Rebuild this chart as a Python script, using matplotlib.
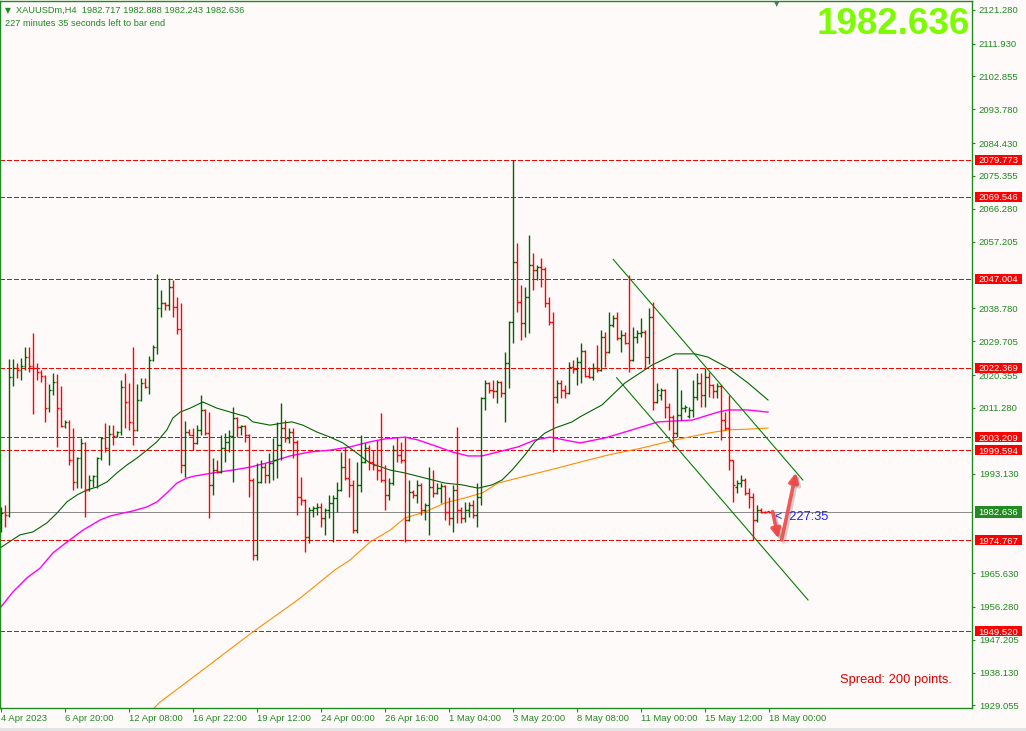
import numpy as np
import matplotlib
matplotlib.use("Agg")
import matplotlib.pyplot as plt
from matplotlib.collections import LineCollection
from matplotlib.patches import Rectangle
import matplotlib.transforms as mtransforms
import matplotlib.patheffects as pe

# ---------------- data (XAUUSDm, H4) ----------------
opens = [
 1979.7,1982.5,1981.7,2019.8,2022.3,2021.7,2022.9,2025.3,2022.9,2022.3,
 2021.2,2020.1,2011.2,2016.2,2018.4,2011.2,2006.3,2007.4,1996.9,1990.8,
 1997.4,2001.6,1988.6,1991.3,1992.5,1997.4,2002.9,2000.2,2004.1,2003.5,
 2004.6,2017.1,2012.9,2007.4,2005.2,2013.4,2018.2,2017.1,2024.5,2028.1,
 2038.9,2040.3,2039.7,2044.7,2039.1,2033.1,1995.5,2004.6,2003.9,2001.6,
 2005.2,2010.7,2004.3,1990.0,1994.1,1993.6,2000.2,2001.8,2003.5,2008.5,
 2006.0,2006.3,2003.8,1991.3,1970.6,1990.8,1994.9,1992.7,1996.0,1996.9,
 2001.0,2005.7,2003.0,2004.6,2001.8,1986.6,1985.8,1975.6,1983.0,1983.5,
 1983.9,1980.8,1983.0,1985.0,1986.4,1988.6,1994.9,1991.9,1990.0,1977.5,
 1990.0,1996.3,2000.2,1996.3,1995.5,1994.1,1991.3,1987.2,1990.5,1999.6,
 1998.3,1996.9,1980.3,1988.0,1987.2,1990.0,1983.0,1984.4,1989.4,1987.8,
 1989.1,1989.7,1982.5,1980.8,1988.6,1983.0,1980.8,1983.0,1984.4,1981.7,
 1986.6,2014.0,2018.2,2016.2,2015.9,2018.4,2015.4,2023.7,2035.0,2051.6,
 2040.5,2034.7,2041.9,2050.8,2049.4,2050.2,2049.6,2040.3,2035.0,2014.3,
 2018.2,2016.2,2015.4,2022.6,2022.0,2024.0,2027.0,2020.1,2019.9,2022.3,
 2021.7,2030.9,2026.7,2034.2,2036.1,2030.6,2031.4,2029.2,2024.5,2030.9,
 2032.0,2032.3,2025.3,2036.4,2012.9,2014.8,2016.2,2011.5,2008.8,2004.3,
 2009.3,2011.2,2009.0,2010.7,2014.3,2018.2,2014.8,2019.8,2017.6,2015.9,
 2017.3,2007.9,2005.7,1996.9,1989.4,1990.5,1991.3,1987.8,1986.6,1980.3,
 1983.0,1982.5,1982.717]
highs = [
 1983.9,1984.4,2024.8,2024.8,2023.7,2025.1,2028.1,2028.1,2032.0,2023.7,
 2021.7,2020.4,2017.9,2020.9,2020.6,2017.3,2007.9,2007.9,2005.7,1997.7,
 2003.0,2001.8,1992.7,1992.8,1997.7,2003.2,2007.1,2006.5,2006.5,2004.8,
 2019.0,2020.9,2018.2,2028.1,2017.9,2019.5,2019.5,2025.6,2028.7,2048.3,
 2043.9,2040.5,2047.2,2046.6,2041.9,2040.3,2007.6,2005.4,2005.7,2006.5,
 2014.8,2011.0,2010.1,1997.4,1996.9,2003.8,2004.3,2005.2,2011.5,2008.7,
 2006.5,2006.6,2004.0,1991.9,1996.0,1996.9,1996.0,1998.8,2002.9,2007.4,
 2012.6,2007.9,2005.7,2005.7,2002.4,1992.2,1986.0,1983.9,1984.1,1985.0,
 1985.0,1983.6,1987.2,1987.2,1990.8,1999.1,2000.5,1997.4,1991.3,1996.3,
 2003.8,2001.6,2001.0,1999.6,2002.4,2009.9,1995.5,1991.9,2001.0,2003.2,
 2001.8,2003.2,1991.3,1988.6,1991.3,1990.5,1985.0,1994.9,1994.1,1990.5,
 1990.5,1990.0,1986.6,1990.0,2006.0,1983.9,1985.3,1985.3,1985.8,1990.5,
 2014.3,2019.0,2018.4,2019.0,2019.0,2018.6,2026.7,2035.3,2079.7,2056.8,
 2045.2,2044.7,2059.1,2054.1,2050.8,2052.7,2050.2,2041.9,2037.8,2019.0,
 2019.0,2017.6,2024.0,2024.5,2025.3,2029.2,2027.2,2022.6,2023.7,2028.7,
 2032.8,2032.2,2037.8,2036.9,2037.8,2032.8,2032.2,2048.0,2033.6,2032.8,
 2036.1,2032.8,2038.9,2040.5,2018.2,2016.8,2016.5,2012.6,2009.3,2022.3,
 2016.2,2012.0,2011.5,2019.0,2020.9,2020.9,2022.3,2021.2,2017.8,2018.2,
 2017.6,2010.1,2014.8,1997.0,1991.3,1992.7,1991.9,1989.1,1987.8,1984.4,
 1983.6,1982.9,1982.888]
lows = [
 1977.0,1978.4,1981.1,2017.3,2019.5,2019.0,2021.7,2021.2,2009.6,2019.0,
 2018.4,2007.4,2010.1,2014.8,2000.5,2006.0,2005.7,1995.5,1988.6,1989.1,
 1989.1,1981.1,1988.3,1989.4,1989.1,1996.9,1999.1,1995.5,2001.0,2003.2,
 2003.8,2005.7,2005.2,2001.0,2004.9,2013.2,2016.8,2015.1,2024.2,2026.2,
 2036.4,2038.3,2038.3,2036.4,2031.7,1993.3,1992.2,2003.7,1999.6,2001.3,
 2003.8,2003.8,1980.8,1987.2,1993.2,1993.3,1996.3,1999.1,1990.8,2003.2,
 2003.8,2001.8,1986.6,1969.2,1969.2,1990.5,1990.5,1990.5,1991.3,1991.9,
 1996.9,2001.8,2001.6,1997.4,1981.7,1984.4,1971.4,1973.9,1981.1,1981.7,
 1978.4,1976.1,1980.8,1974.2,1982.5,1988.3,1991.3,1986.6,1976.7,1976.7,
 1988.0,1996.0,1994.1,1994.1,1991.3,1990.8,1983.0,1985.8,1990.0,1996.3,
 1996.0,1974.2,1980.0,1986.4,1985.0,1981.7,1980.3,1976.1,1986.6,1987.5,
 1985.0,1980.3,1978.9,1977.0,1979.5,1979.5,1979.7,1981.1,1980.8,1978.4,
 1984.4,2010.7,2015.4,2014.0,2012.6,2014.3,2007.4,2016.8,2029.2,2037.8,
 2030.0,2030.9,2032.0,2043.9,2046.6,2044.7,2039.2,2034.2,1999.1,2012.6,
 2014.0,2014.0,2015.2,2020.9,2017.6,2018.2,2019.8,2019.5,2019.0,2021.2,
 2021.5,2022.6,2026.4,2033.6,2030.0,2026.7,2029.0,2021.2,2024.3,2029.2,
 2030.9,2022.3,2023.3,2010.7,2012.6,2013.5,2008.5,2005.2,2000.5,2003.2,
 2007.9,2010.1,2008.5,2008.8,2013.4,2011.5,2011.5,2014.3,2014.0,2014.0,
 2002.4,2005.2,1994.1,1985.3,1987.8,1989.4,1987.2,1983.6,1974.8,1979.7,
 1982.2,1982.2,1982.243]
closes = [
 1982.2,1981.7,2019.8,2022.3,2021.7,2022.9,2025.3,2022.9,2022.3,2021.2,
 2020.1,2011.2,2016.2,2018.4,2011.2,2006.3,2007.4,1996.9,1990.8,1997.4,
 2001.6,1988.6,1991.3,1992.5,1997.4,2002.9,2000.2,2004.1,2003.5,2004.6,
 2017.1,2012.9,2007.4,2005.2,2013.4,2018.2,2017.1,2024.5,2028.1,2038.9,
 2040.3,2039.7,2044.7,2039.1,2033.1,1995.5,2004.6,2003.9,2001.6,2005.2,
 2010.7,2004.3,1990.0,1994.1,1993.6,2000.2,2001.8,2003.5,2008.5,2006.0,
 2006.3,2003.8,1991.3,1970.6,1990.8,1994.9,1992.7,1996.0,1996.9,2001.0,
 2005.7,2003.0,2004.6,2001.8,1986.6,1985.8,1975.6,1983.0,1983.5,1983.9,
 1980.8,1983.0,1985.0,1986.4,1988.6,1994.9,1991.9,1990.0,1977.5,1990.0,
 1996.3,2000.2,1996.3,1995.5,1994.1,1991.3,1987.2,1990.5,1999.6,1998.3,
 1996.9,1980.3,1988.0,1987.2,1990.0,1983.0,1984.4,1989.4,1987.8,1989.1,
 1989.7,1982.5,1980.8,1988.6,1983.0,1980.8,1983.0,1984.4,1981.7,1986.6,
 2014.0,2018.2,2016.2,2015.9,2018.4,2015.4,2023.7,2035.0,2051.6,2040.5,
 2034.7,2041.9,2050.8,2049.4,2050.2,2049.6,2040.3,2035.0,2014.3,2018.2,
 2016.2,2015.4,2022.6,2022.0,2024.0,2027.0,2020.1,2019.9,2022.3,2021.7,
 2030.9,2026.7,2034.2,2036.1,2030.6,2031.4,2029.2,2024.5,2030.9,2032.0,
 2032.3,2025.3,2036.4,2012.9,2016.2,2016.2,2011.5,2008.8,2004.3,2009.3,
 2011.2,2011.5,2010.7,2014.3,2018.2,2014.8,2019.8,2017.6,2015.9,2017.3,
 2007.9,2005.7,1996.9,1990.0,1990.5,1991.3,1987.8,1986.6,1980.3,1983.0,
 1982.5,1982.4,1982.636]

# moving averages (bar index, price)
ma_green_x = [0,4.7,7.9,11.4,13.9,16.4,18.9,21.4,23.9,26.4,28.9,31.4,33.9,36.4,38.9,41.4,42.9,44.7,47.2,50.4,
              53.9,57.9,61.4,62.9,67.2,70.4,72.7,75.4,78.9,82.2,85.4,88.9,92.2,97.2,100.9,105.9,110.9,115.2,119.2,
              122.7,125.2,127.7,130.9,133.4,135.9,138.4,142.7,144.7,150.2,155.9,162.7,168.4,173.4,176.7,181.7,186.7,191.7]
ma_green_y = [1972.8,1976.2,1977.0,1979.5,1982.2,1985.3,1987.2,1988.6,1989.4,1990.8,1993.3,1995.5,1997.4,1999.6,
              2001.9,2005.2,2008.5,2010.1,2011.2,2012.9,2011.2,2009.9,2008.8,2007.4,2006.5,2007.1,2007.4,2006.5,
              2004.6,2003.2,2001.6,1998.8,1996.0,1994.1,1993.3,1991.9,1990.5,1990.0,1989.1,1990.0,1991.35,1994.1,
              1998.25,2001.9,2004.3,2005.7,2007.4,2008.8,2012.1,2018.15,2023.1,2026.2,2026.2,2025.3,2022.3,2018.15,2013.45]
ma_magenta_x = [-0.3,2.9,6.4,9.7,12.9,16.4,20.4,24.7,27.2,30.4,32.9,36.4,38.9,41.4,43.9,46.4,48.4,52.9,57.9,62.2,
                67.2,72.2,77.2,82.2,87.2,92.2,95.9,100.9,104.2,109.2,112.7,116.7,120.2,124.2,129.2,133.4,137.2,
                140.9,144.7,150.9,155.9,164.2,172.7,179.2,181.7,186.7,191.7]
ma_magenta_y = [1956.0,1960.4,1964.3,1967.0,1971.2,1974.2,1977.5,1980.3,1981.4,1982.2,1982.8,1983.9,1985.3,1987.75,
                1990.5,1991.9,1992.45,1993.3,1994.1,1994.9,1996.3,1998.0,1999.1,1999.6,2000.5,2001.9,2002.7,2003.2,
                2002.4,2000.5,1999.1,1998.0,1998.0,1999.1,2000.5,2002.4,2003.2,2002.4,2001.6,2002.95,2004.6,2007.4,
                2007.9,2010.1,2010.7,2010.7,2010.1]
ma_orange_x = [37.7,39.7,49.7,62.2,74.7,83.4,87.2,92.2,97.2,100.9,105.9,110.9,115.9,120.2,124.2,129.2,134.2,139.2,
               144.7,151.7,160.2,168.4,176.7,181.7,186.7,191.7]
ma_orange_y = [1927.8,1930.0,1938.3,1948.8,1958.7,1966.5,1969.24,1974.2,1977.5,1980.85,1982.5,1985.0,1986.4,1987.75,
               1990.5,1991.9,1993.3,1994.7,1996.3,1998.25,2000.2,2002.4,2004.3,2005.2,2005.4,2005.7]

# channel trend lines (bar index, price)
trend_upper_x = [153.0, 200.4]
trend_upper_y = [2052.3, 1991.35]
trend_lower_x = [153.85, 201.7]
trend_lower_y = [2019.6, 1958.2]

# horizontal levels
levels = [2079.773, 2069.546, 2047.004, 2022.369, 2003.209, 1999.594, 1974.767, 1949.520]
bid = 1982.636

# hand-drawn arrows (bar index, price)
arrow1 = [(192.85, 1982.6), (194.25, 1975.2)]
arrow2 = [(195.1, 1974.8), (198.7, 1993.4)]

ytick_vals = [2121.280, 2111.930, 2102.855, 2093.780, 2084.430, 2075.355, 2066.280, 2057.205,
              2038.780, 2029.705, 2020.355, 2011.280, 1993.130, 1965.630, 1956.280, 1947.205,
              1938.130, 1929.055]
xtick_labels = ["4 Apr 2023", "6 Apr 20:00", "12 Apr 08:00", "16 Apr 22:00", "19 Apr 12:00",
                "24 Apr 00:00", "26 Apr 16:00", "1 May 04:00", "3 May 20:00", "8 May 08:00",
                "11 May 00:00", "15 May 12:00", "18 May 00:00"]
xtick_pos = [16 * k for k in range(len(xtick_labels))]

# ---------------- styling ----------------
BG = "#fffafa"
FG = "#1f8a1f"
BULL = "#006400"
BEAR = "#ff0000"
FONT = ["Liberation Sans", "DejaVu Sans"]
plt.rcParams["font.family"] = FONT

W, H = 1026, 731
PX = 0.72  # one pixel in points
fig = plt.figure(figsize=(W / 100, H / 100), dpi=100, facecolor=BG)
ax = fig.add_axes([0, 23 / H, 972 / W, 707 / H])
ax.set_facecolor(BG)
ax.set_xlim(-0.33, 242.7)
ax.set_ylim(1928.35, 2123.70)

for s in ax.spines.values():
    s.set_color(FG)
    s.set_linewidth(1.0)

# levels
for v in levels:
    ax.axhline(v, color="#ff0000", lw=PX, dashes=(5, 2.5), antialiased=False, zorder=1)
ax.axhline(bid, color="#8c8c8c", lw=PX, antialiased=False, zorder=1)

# moving averages
ax.plot(ma_orange_x, ma_orange_y, color="#ff8c00", lw=0.8, zorder=2)
ax.plot(ma_magenta_x, ma_magenta_y, color="#ff00ff", lw=1.0, zorder=2)
ax.plot(ma_green_x, ma_green_y, color="#006400", lw=0.8, zorder=2)

# trend channel
ax.plot(trend_upper_x, trend_upper_y, color="#008000", lw=0.8, zorder=2)
ax.plot(trend_lower_x, trend_lower_y, color="#008000", lw=0.8, zorder=2)

# OHLC bars
segs, cols = [], []
for i, (o, h, l, c) in enumerate(zip(opens, highs, lows, closes)):
    col = BULL if c >= o else BEAR
    segs += [[(i, l), (i, h)], [(i - 0.45, o), (i, o)], [(i, c), (i + 0.45, c)]]
    cols += [col] * 3
bars = LineCollection(segs, colors=cols, linewidths=1.0, antialiased=True, zorder=3)
bars.set_snap(True)
ax.add_collection(bars)

# arrows
for (p0, p1) in (arrow1, arrow2):
    ax.annotate("", xy=p1, xytext=p0,
                arrowprops=dict(arrowstyle="-|>,head_length=0.55,head_width=0.28", color="#f04848",
                                lw=2.6, shrinkA=0, shrinkB=0, alpha=0.9,
                                path_effects=[pe.SimpleLineShadow(offset=(1.5, -1.5), shadow_color="gray", alpha=0.35),
                                              pe.Normal()]),
                zorder=6)

# ticks
ax.yaxis.tick_right()
ax.set_yticks(ytick_vals)
ax.set_yticklabels([f"{v:.3f}" for v in ytick_vals])
ax.tick_params(axis="y", direction="out", length=2.5, width=0.8, pad=2.5, labelsize=6.8,
               colors=FG)
ax.set_xticks(xtick_pos)
ax.set_xticklabels(xtick_labels, ha="left")
ax.tick_params(axis="x", direction="out", length=3, width=0.8, pad=1.5, labelsize=6.8, colors=FG)

# price labels on the right axis
bt = mtransforms.blended_transform_factory(fig.transFigure, ax.transData)
box_h = 10 * 0.27632
for v in levels:
    fig.add_artist(Rectangle((975 / W, v - box_h / 2), 47 / W, box_h, transform=bt,
                             facecolor="#ff0000", edgecolor="none", zorder=5))
    fig.text(998.5 / W, v, f"{v:.3f}", transform=bt, ha="center", va="center_baseline",
             fontsize=6.8, color="white", zorder=6)
fig.add_artist(Rectangle((975 / W, bid - 6 * 0.27632), 47 / W, 12 * 0.27632, transform=bt,
                         facecolor="#228b22", edgecolor="none", zorder=5))
fig.text(998.5 / W, bid, f"{bid:.3f}", transform=bt, ha="center", va="center_baseline",
         fontsize=6.8, color="white", zorder=6)

# header texts
fig.text(5 / W, 1 - 10.5 / H, "\u25bc", fontsize=5.5, color=FG, va="center", family=["DejaVu Sans"])
fig.text(16 / W, 1 - 10.5 / H, "XAUUSDm,H4  1982.717 1982.888 1982.243 1982.636",
         fontsize=6.7, color=FG, va="center")
fig.text(5 / W, 1 - 24 / H, "227 minutes 35 seconds left to bar end",
         fontsize=6.7, color=FG, va="center")

# big price
fig.text(970 / W, 1 - 25 / H, "1982.636", fontsize=26.5, fontweight="bold",
         color="#7cfc00", ha="right", va="center")

# spread
fig.text(952 / W, 1 - 680 / H, "Spread: 200 points.", fontsize=9.3, color="#e00000",
         ha="right", va="center")

# bar timer
ax.text(193.5, bid - 1.6, "<  227:35", fontsize=9.2, color="#2020ff", ha="left", va="center", zorder=7)

# shift marker
fig.text(777 / W, 1 - 4 / H, "\u25bc", fontsize=5, color="#3f7f5f", ha="center", va="center",
         family=["DejaVu Sans"])

# bottom strip
fig.add_artist(Rectangle((0, 0), 1, 3 / H, transform=fig.transFigure,
                         facecolor="#e4e4e4", edgecolor="none"))

fig.savefig("out.png", dpi=100, facecolor=BG)
